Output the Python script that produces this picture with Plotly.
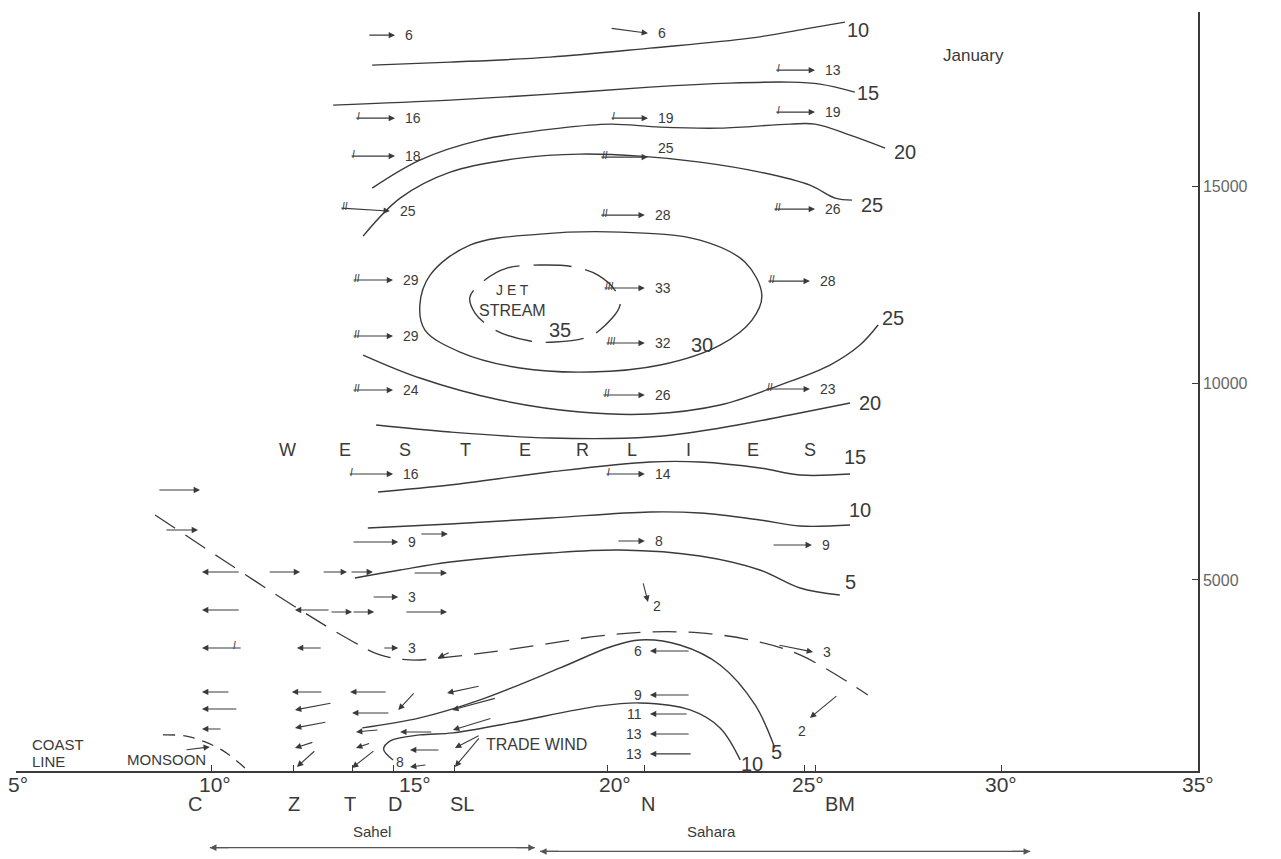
import plotly.graph_objects as go

# ---------------- isotach contours (latitude degN, altitude m) ----------------
ISO10_UP_LAT = [14.04, 16.02, 18.55, 21.09, 23.63, 25.15, 26.04]
ISO10_UP_ALT = [18070, 18147, 18274, 18502, 18756, 19010, 19162]

ISO15_UP_LAT = [13.05, 16.02, 18.55, 21.09, 23.12, 24.64, 25.41, 26.29]
ISO15_UP_ALT = [17055, 17182, 17335, 17512, 17614, 17639, 17588, 17385]

ISO20_UP_LAT = [14.04, 15.25, 16.78, 18.81, 20.08, 21.35, 22.87, 24.64, 25.28, 26.17, 27.06]
ISO20_UP_ALT = [14949, 15660, 16167, 16472, 16573, 16497, 16472, 16573, 16573, 16294, 15964]

ISO25_UP_LAT = [13.81, 14.75, 16.02, 17.79, 19.31, 20.84, 22.36, 23.88, 25.15, 25.79, 26.22]
ISO25_UP_ALT = [13731, 14695, 15355, 15710, 15812, 15761, 15609, 15355, 15025, 14695, 14645]

ISO30_LAT = [15.51, 16.52, 18.30, 20.33, 22.36, 23.50, 23.93, 23.68, 22.87, 21.35, 19.57, 17.79, 16.27, 15.38, 15.25, 15.51]
ISO30_ALT = [12741, 13502, 13781, 13832, 13629, 13071, 12233, 11599, 10964, 10457, 10279, 10381, 10787, 11345, 11980, 12741]

ISO35_LAT = [16.52, 16.90, 17.46, 18.30, 19.19, 19.77, 20.20, 20.33, 19.82, 19.44, 18.68, 18.05, 17.16, 16.65, 16.52]
ISO35_ALT = [12182, 12614, 12918, 12995, 12944, 12741, 12360, 11980, 11345, 11142, 11040, 11066, 11345, 11777, 12182]

ISO25_LO_LAT = [13.81, 15.25, 17.28, 19.31, 21.09, 22.87, 24.39, 25.66, 26.42, 26.88]
ISO25_LO_ALT = [10710, 10127, 9568, 9264, 9213, 9441, 9949, 10457, 10964, 11472]

ISO20_LO_LAT = [14.14, 16.02, 18.55, 21.09, 22.87, 24.64, 26.17]
ISO20_LO_ALT = [8934, 8756, 8604, 8629, 8858, 9188, 9492]

ISO15_LO_LAT = [14.19, 16.02, 18.55, 21.09, 22.36, 23.88, 24.90, 26.17]
ISO15_LO_ALT = [7233, 7411, 7741, 7995, 7995, 7843, 7665, 7690]

ISO10_LO_LAT = [13.93, 16.02, 18.55, 21.09, 22.36, 23.88, 24.90, 26.17]
ISO10_LO_ALT = [6320, 6421, 6573, 6726, 6700, 6523, 6370, 6396]

ISO5_MID_LAT = [13.60, 14.75, 16.02, 18.55, 20.33, 22.36, 23.88, 24.90, 25.91]
ISO5_MID_ALT = [5051, 5254, 5457, 5685, 5761, 5609, 5254, 4797, 4619]

ISO5_SFC_LAT = [13.79, 15.25, 16.78, 18.81, 20.08, 20.84, 21.85, 22.87, 23.76, 24.26]
ISO5_SFC_ALT = [1244, 1497, 1954, 2766, 3299, 3477, 3350, 2843, 1827, 736]

ISO10_SFC_LAT = [14.57, 14.33, 14.50, 15.25, 16.09, 17.54, 19.82, 20.84, 22.11, 22.87, 23.38]
ISO10_SFC_ALT = [430, 700, 915, 1066, 1117, 1371, 1802, 1878, 1700, 1244, 431]

# dashed boundaries
FRONT_LAT = [8.53, 10.18, 12.21, 13.48, 14.24, 15.00, 16.02, 17.79, 19.82, 21.09, 22.36, 23.63, 24.90, 26.62]
FRONT_ALT = [6650, 5558, 4238, 3477, 3096, 2969, 3046, 3274, 3579, 3680, 3655, 3477, 3096, 2081]

MONSOON_LAT = [8.73, 9.29, 9.80, 10.30, 10.81]
MONSOON_ALT = [1066, 1041, 888, 635, 228]

# isotach labels
ISO_LABEL_TEXT = ["10", "15", "20", "25", "30", "25", "20", "15", "10", "5", "10", "5"]
ISO_LABEL_LAT = [26.37, 26.62, 27.56, 26.73, 22.41, 27.26, 26.68, 26.29, 26.42, 26.19, 23.68, 24.29]
ISO_LABEL_ALT = [18959, 17360, 15863, 14518, 10964, 11650, 9492, 8122, 6776, 4949, 330, 635]

# ---------------- westerly wind observations (arrows, speed m/s) ----------------
WEST_TAIL_LAT = [13.93, 13.60, 13.48, 13.22, 13.53, 13.53, 13.53, 13.43, 13.53, 14.04, 14.31,
                 20.08, 20.08, 19.82, 19.82, 19.90, 19.95, 19.87, 19.95, 20.25,
                 24.26, 24.26, 24.21, 24.06, 24.01, 24.19, 24.34]
WEST_HEAD_LAT = [14.62, 14.62, 14.62, 14.49, 14.57, 14.57, 14.57, 14.57, 14.70, 14.70, 14.70,
                 21.04, 21.04, 21.04, 20.96, 20.96, 20.96, 20.96, 20.96, 20.96,
                 25.28, 25.28, 25.28, 25.15, 25.15, 25.20, 25.23]
WEST_TAIL_ALT = [18832, 16725, 15761, 14442, 12614, 11193, 9822, 7690, 5964, 4568, 3274,
                 19010, 16725, 15736, 14264, 12411, 11015, 9695, 7690, 5990,
                 17944, 16878, 14416, 12588, 9847, 5888, 3350]
WEST_HEAD_ALT = [18832, 16725, 15761, 14366, 12614, 11193, 9822, 7690, 5964, 4568, 3274,
                 18883, 16725, 15736, 14264, 12411, 11015, 9695, 7690, 5990,
                 17944, 16878, 14416, 12588, 9847, 5888, 3172]
WEST_SPEED = ["6", "16", "18", "25", "29", "29", "24", "16", "9", "3", "3",
              "6", "19", "25", "28", "33", "32", "26", "14", "8",
              "13", "19", "26", "28", "23", "9", "3"]
WEST_BARB = ["", "I", "I", "II", "II", "II", "II", "I", "", "", "",
             "", "I", "II", "II", "III", "III", "II", "I", "",
             "I", "I", "II", "II", "II", "", ""]

# weak northerly components
WEAK_TAIL_LAT = [20.91, 25.86]
WEAK_TAIL_ALT = [4949, 2081]
WEAK_HEAD_LAT = [21.04, 25.15]
WEAK_HEAD_ALT = [4442, 1497]
WEAK_SPEED = ["2", "2"]

# ---------------- low-level winds (monsoon / trade wind) ----------------
LOW_TAIL_LAT = [8.60, 8.78, 10.69, 10.69, 10.74, 10.43, 10.63, 10.23, 9.29,
                11.40, 12.97, 12.77, 12.79, 13.02, 12.89, 12.56, 12.61,
                12.77, 13.48, 15.08, 12.97, 13.53, 14.87, 14.42, 15.13, 14.49, 14.21, 15.58,
                14.00, 14.11, 15.76, 15.43, 16.78, 17.19, 17.08, 16.78, 16.78, 16.02, 15.25]
LOW_TAIL_ALT = [7284, 6269, 5203, 4238, 3274, 2157, 1726, 1218, 685,
                5203, 4238, 3274, 2157, 1878, 1396, 889, 686,
                5203, 5203, 5178, 4188, 4188, 4188, 2157, 2157, 1624, 1193, 1142,
                863, 685, 685, 305, 2310, 2005, 1497, 1066, 1015, 3172, 6167]
LOW_HEAD_LAT = [9.67, 9.62, 9.72, 9.72, 9.72, 9.72, 9.72, 9.72, 9.92,
                12.21, 12.08, 12.13, 12.00, 12.08, 12.08, 12.08, 12.13,
                13.40, 14.06, 15.94, 13.53, 14.09, 15.94, 13.48, 14.70, 13.53, 13.63, 14.75,
                13.63, 13.53, 15.00, 15.00, 15.94, 16.07, 16.09, 16.14, 16.14, 15.71, 15.96]
LOW_HEAD_ALT = [7284, 6269, 5203, 4238, 3274, 2157, 1726, 1218, 762,
                5203, 4238, 3274, 2157, 1700, 1244, 736, 254,
                5203, 5203, 5178, 4188, 4188, 4188, 2157, 1700, 1624, 1142, 1142,
                736, 228, 685, 254, 2132, 1700, 1193, 736, 254, 3020, 6167]

# trade wind at N (speeds written to the left)
TRADE_TAIL_LAT = [22.11, 22.11, 22.06, 22.11, 22.16]
TRADE_HEAD_LAT = [21.09, 21.09, 21.09, 21.09, 21.09]
TRADE_ALT = [3198, 2081, 1599, 1091, 584]
TRADE_SPEED = ["6", "9", "11", "13", "13"]

# ---------------- axes & place labels ----------------
DEG_LABEL_POS = [5.05, 10.05, 15.13, 20.2, 25.1, 30.0, 35.0]
DEG_LABELS = ["5°", "10°", "15°", "20°", "25°", "30°", "35°"]
STATION_LAT = [9.97, 12.05, 13.53, 14.57, 16.12, 20.94, 25.28]
STATION_LABEL_LAT = [9.55, 12.05, 13.48, 14.62, 16.32, 21.03, 25.92]
STATION_NAMES = ["C", "Z", "T", "D", "SL", "N", "BM"]
AXIS_TICK_LAT = [5, 20, 25, 30]
ALT_TICKS = [5000, 10000, 15000]

WESTERLIES = ["W", "E", "S", "T", "E", "R", "L", "I", "E", "S"]
WESTERLIES_LAT = [11.88, 13.35, 14.87, 16.40, 17.92, 19.39, 20.63, 22.06, 23.71, 25.15]
WESTERLIES_ALT = 8299

SAHEL_SPAN = [9.92, 18.17]
SAHARA_SPAN = [18.30, 30.74]

INK = "#3a3a3a"
FONT = "Liberation Sans"

fig = go.Figure()

solid = [(ISO10_UP_LAT, ISO10_UP_ALT), (ISO15_UP_LAT, ISO15_UP_ALT), (ISO20_UP_LAT, ISO20_UP_ALT),
         (ISO25_UP_LAT, ISO25_UP_ALT), (ISO30_LAT, ISO30_ALT), (ISO25_LO_LAT, ISO25_LO_ALT),
         (ISO20_LO_LAT, ISO20_LO_ALT), (ISO15_LO_LAT, ISO15_LO_ALT), (ISO10_LO_LAT, ISO10_LO_ALT),
         (ISO5_MID_LAT, ISO5_MID_ALT), (ISO5_SFC_LAT, ISO5_SFC_ALT), (ISO10_SFC_LAT, ISO10_SFC_ALT)]
for lx, ly in solid:
    fig.add_trace(go.Scatter(x=lx, y=ly, mode="lines", line=dict(color=INK, width=1.4, shape="spline", smoothing=1.0),
                             hoverinfo="skip", showlegend=False))

fig.add_trace(go.Scatter(x=ISO35_LAT, y=ISO35_ALT, mode="lines",
                         line=dict(color=INK, width=1.4, shape="spline", dash="38px,14px"),
                         hoverinfo="skip", showlegend=False))
fig.add_trace(go.Scatter(x=FRONT_LAT, y=FRONT_ALT, mode="lines",
                         line=dict(color=INK, width=1.3, shape="spline", dash="24px,12px"),
                         hoverinfo="skip", showlegend=False))
fig.add_trace(go.Scatter(x=MONSOON_LAT, y=MONSOON_ALT, mode="lines",
                         line=dict(color=INK, width=1.3, shape="spline", dash="12px,8px"),
                         hoverinfo="skip", showlegend=False))

ann = []


def arrow(x0, y0, x1, y1):
    return dict(x=x1, y=y1, ax=x0, ay=y0, xref="x", yref="y", axref="x", ayref="y", text="",
                showarrow=True, arrowhead=2, arrowsize=1.15, arrowwidth=1.1, arrowcolor=INK,
                standoff=0, startstandoff=0)


def label(x, y, t, size=13, xanchor="center", xshift=0, yshift=0, yref="y", color=INK):
    return dict(x=x, y=y, xref="x", yref=yref, text=t, showarrow=False, xanchor=xanchor, yanchor="middle",
                xshift=xshift, yshift=yshift, font=dict(family=FONT, size=size, color=color))


for i in range(len(WEST_SPEED)):
    ann.append(arrow(WEST_TAIL_LAT[i], WEST_TAIL_ALT[i], WEST_HEAD_LAT[i], WEST_HEAD_ALT[i]))
    ys = 9 if WEST_SPEED[i] == "25" and WEST_HEAD_LAT[i] > 20 else 0
    ann.append(label(WEST_HEAD_LAT[i], WEST_HEAD_ALT[i], WEST_SPEED[i], size=14, xanchor="left", xshift=8, yshift=ys))
    if WEST_BARB[i]:
        ann.append(label(WEST_TAIL_LAT[i], WEST_TAIL_ALT[i], "<i>" + WEST_BARB[i] + "</i>", size=10,
                         xanchor="left", xshift=0, yshift=2))

for i in range(len(WEAK_SPEED)):
    ann.append(arrow(WEAK_TAIL_LAT[i], WEAK_TAIL_ALT[i], WEAK_HEAD_LAT[i], WEAK_HEAD_ALT[i]))
ann.append(label(WEAK_HEAD_LAT[0], WEAK_HEAD_ALT[0], WEAK_SPEED[0], size=14, xanchor="left", xshift=3, yshift=-4))
ann.append(label(WEAK_HEAD_LAT[1], WEAK_HEAD_ALT[1], WEAK_SPEED[1], size=14, xanchor="center", xshift=-8, yshift=-13))

for i in range(len(LOW_TAIL_LAT)):
    ann.append(arrow(LOW_TAIL_LAT[i], LOW_TAIL_ALT[i], LOW_HEAD_LAT[i], LOW_HEAD_ALT[i]))
ann.append(label(10.55, 3274, "<i>I</i>", size=10, yshift=2))

for i in range(len(TRADE_SPEED)):
    ann.append(arrow(TRADE_TAIL_LAT[i], TRADE_ALT[i], TRADE_HEAD_LAT[i], TRADE_ALT[i]))
    ann.append(label(TRADE_HEAD_LAT[i], TRADE_ALT[i], TRADE_SPEED[i], size=14, xanchor="right", xshift=-6))

for i in range(len(ISO_LABEL_TEXT)):
    ann.append(label(ISO_LABEL_LAT[i], ISO_LABEL_ALT[i], ISO_LABEL_TEXT[i], size=20))

for i, ch in enumerate(WESTERLIES):
    ann.append(label(WESTERLIES_LAT[i], WESTERLIES_ALT, ch, size=18))

ann.append(label(17.61, 12360, "J E T", size=14))
ann.append(label(17.59, 11853, "STREAM", size=16))
ann.append(label(18.81, 11345, "35", size=20))
ann.append(label(29.29, 18324, "January", size=17))
ann.append(label(5.36, 812, "COAST", size=15, xanchor="left"))
ann.append(label(5.36, 381, "LINE", size=15, xanchor="left"))
ann.append(label(8.81, 431, "MONSOON", size=15))
ann.append(label(18.22, 812, "TRADE WIND", size=16))
ann.append(label(14.75, 381, "8", size=14))

# labels below the axis (paper coordinates)
for x, t in zip(DEG_LABEL_POS, DEG_LABELS):
    ann.append(label(x, -0.018, t, size=21, yref="paper"))
for x, t in zip(STATION_LABEL_LAT, STATION_NAMES):
    ann.append(label(x, -0.043, t, size=20, yref="paper"))
ann.append(label(14.04, -0.080, "Sahel", size=15, yref="paper"))
ann.append(label(22.66, -0.080, "Sahara", size=15, yref="paper"))

# region span lines with arrowheads at both ends
shapes = []
for span, yp in [(SAHEL_SPAN, -0.101), (SAHARA_SPAN, -0.106)]:
    shapes.append(dict(type="line", xref="x", yref="paper", x0=span[0], x1=span[1], y0=yp, y1=yp,
                       line=dict(color="#555", width=1.2)))
    ann.append(dict(x=span[1], y=yp, ax=-20, ay=0, xref="x", yref="paper", axref="pixel", ayref="pixel", text="",
                    showarrow=True, arrowhead=2, arrowsize=1.1, arrowwidth=1.2, arrowcolor="#555", standoff=0))
    ann.append(dict(x=span[0], y=yp, ax=20, ay=0, xref="x", yref="paper", axref="pixel", ayref="pixel", text="",
                    showarrow=True, arrowhead=2, arrowsize=1.1, arrowwidth=1.2, arrowcolor="#555", standoff=0))

fig.update_layout(
    width=1273, height=851,
    margin=dict(l=8, r=83, t=4, b=88, autoexpand=False),
    paper_bgcolor="white", plot_bgcolor="white",
    showlegend=False,
    annotations=ann,
    shapes=shapes,
    xaxis=dict(range=[5, 35], showgrid=False, zeroline=False, showline=True, linecolor=INK, linewidth=1.5,
               ticks="inside", ticklen=6, tickcolor=INK, tickwidth=1.2,
               tickvals=AXIS_TICK_LAT + STATION_LAT, showticklabels=False),
    yaxis=dict(range=[150, 19420], side="right", showgrid=False, zeroline=False, showline=True, linecolor=INK,
               linewidth=1.5, ticks="inside", ticklen=6, tickcolor=INK, tickvals=ALT_TICKS,
               ticktext=[str(v) for v in ALT_TICKS], tickfont=dict(family=FONT, size=16, color="#666")),
)

fig.write_html("out.html")
